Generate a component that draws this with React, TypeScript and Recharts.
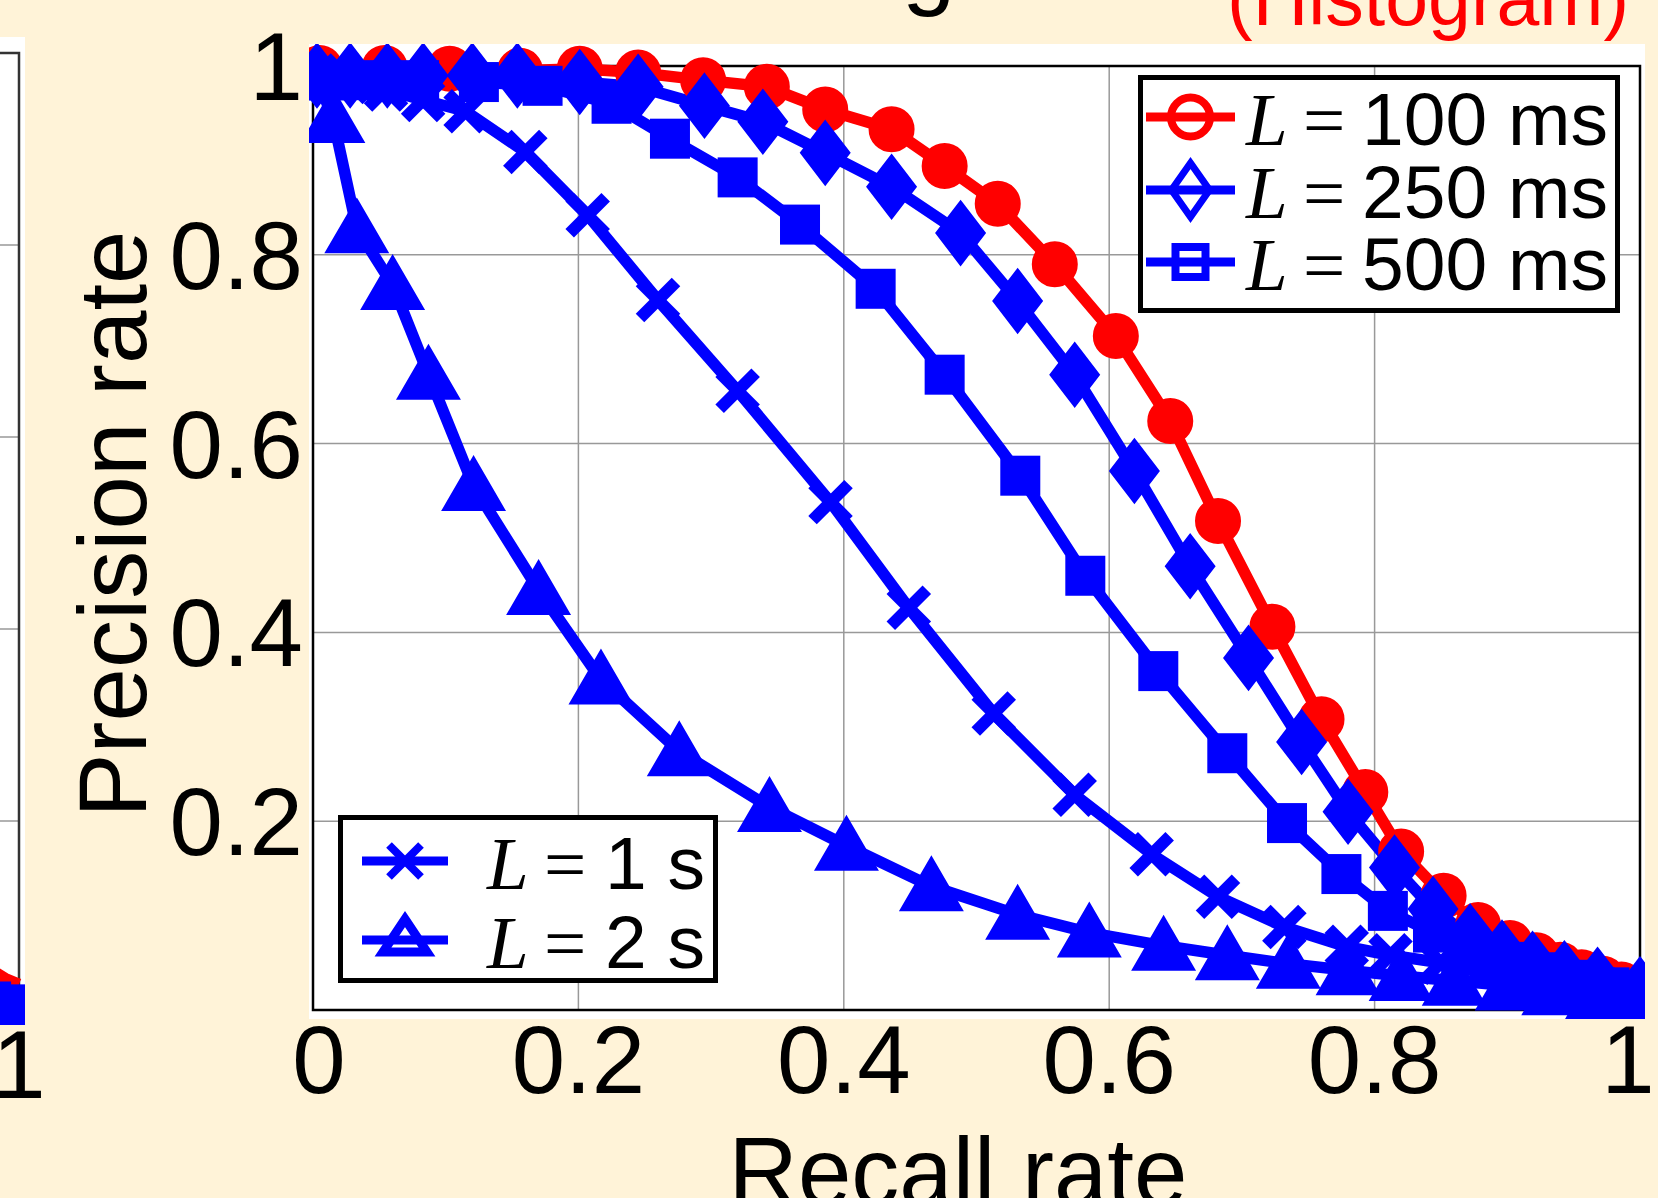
import React from 'react';
import { LineChart, Line, XAxis, YAxis, CartesianGrid, ReferenceArea } from 'recharts';

const W = 1658;
const H = 1198;
const SANS = '"Liberation Sans", Arial, Helvetica, sans-serif';
const SERIF = '"Liberation Serif", "Times New Roman", serif';
const RED = '#ff0000';
const BLUE = '#0000ff';
const PAGE_BG = '#fff3d8';

// recall (x) / precision (y)
const recall100 = [0.005, 0.054, 0.103, 0.156, 0.201, 0.245, 0.294, 0.342, 0.386, 0.436, 0.476, 0.516, 0.559, 0.605, 0.646, 0.682, 0.723, 0.76, 0.793, 0.82, 0.852, 0.878, 0.902, 0.922, 0.94, 0.956, 0.972, 0.986, 1.0];
const precision100 = [0.998, 0.998, 0.997, 0.995, 0.997, 0.993, 0.985, 0.978, 0.954, 0.933, 0.894, 0.854, 0.79, 0.714, 0.624, 0.518, 0.406, 0.308, 0.231, 0.168, 0.121, 0.09, 0.071, 0.058, 0.048, 0.04, 0.033, 0.027, 0.022];

const recall250 = [0.003, 0.028, 0.056, 0.083, 0.12, 0.154, 0.201, 0.245, 0.295, 0.339, 0.386, 0.436, 0.488, 0.531, 0.574, 0.619, 0.661, 0.705, 0.745, 0.78, 0.815, 0.844, 0.872, 0.896, 0.919, 0.943, 0.968, 1.0];
const precision250 = [0.99, 0.99, 0.99, 0.99, 0.99, 0.99, 0.983, 0.978, 0.958, 0.941, 0.908, 0.872, 0.823, 0.751, 0.673, 0.571, 0.47, 0.373, 0.284, 0.21, 0.151, 0.107, 0.078, 0.061, 0.049, 0.039, 0.032, 0.022];

const recall500 = [0.003, 0.04, 0.08, 0.125, 0.173, 0.225, 0.269, 0.32, 0.367, 0.424, 0.476, 0.533, 0.582, 0.637, 0.689, 0.734, 0.775, 0.81, 0.844, 0.872, 0.898, 0.925, 0.951, 0.977, 1.0];
const precision500 = [0.985, 0.985, 0.985, 0.983, 0.979, 0.96, 0.923, 0.882, 0.832, 0.764, 0.673, 0.566, 0.46, 0.359, 0.272, 0.198, 0.144, 0.105, 0.082, 0.064, 0.051, 0.04, 0.032, 0.024, 0.019];

const recall1s = [0.003, 0.027, 0.055, 0.083, 0.115, 0.16, 0.207, 0.26, 0.32, 0.39, 0.449, 0.513, 0.574, 0.632, 0.682, 0.732, 0.779, 0.812, 0.85, 0.88, 0.91, 0.94, 0.97, 1.0];
const precision1s = [0.99, 0.983, 0.975, 0.964, 0.952, 0.909, 0.842, 0.752, 0.656, 0.538, 0.426, 0.314, 0.228, 0.165, 0.12, 0.088, 0.067, 0.058, 0.05, 0.04, 0.033, 0.027, 0.022, 0.018];

const recall2s = [0.002, 0.015, 0.033, 0.06, 0.087, 0.121, 0.17, 0.217, 0.276, 0.344, 0.402, 0.466, 0.531, 0.585, 0.641, 0.689, 0.735, 0.78, 0.82, 0.86, 0.9, 0.935, 0.968, 1.0];
const precision2s = [0.99, 0.945, 0.828, 0.768, 0.673, 0.555, 0.445, 0.35, 0.274, 0.215, 0.174, 0.131, 0.101, 0.082, 0.068, 0.058, 0.049, 0.042, 0.036, 0.031, 0.026, 0.021, 0.017, 0.014];

// neighbouring panel on the left, only its right edge is in frame
const recallPrevRed = [0.85, 0.9, 0.95, 1.0];
const precisionPrevRed = [0.06, 0.045, 0.036, 0.03];
const recallPrevBlue = [0.9, 0.95, 1.0];
const precisionPrevBlue = [0.012, 0.009, 0.008];

const xTicks = [0, 0.2, 0.4, 0.6, 0.8, 1];
const yTicks = [0.2, 0.4, 0.6, 0.8, 1];

const pts = (xs: number[], ys: number[]) => xs.map((x, i) => ({ x, y: ys[i] }));

type Kind = 'circle' | 'diamond' | 'square' | 'cross' | 'triangle';

const Marker = ({ kind, cx, cy, color, open = false }: { kind: Kind; cx: number; cy: number; color: string; open?: boolean }) => {
  const fill = open ? 'none' : color;
  switch (kind) {
    case 'circle':
      return <circle cx={cx} cy={cy} r={open ? 19.5 : 21} fill={fill} stroke={color} strokeWidth={open ? 8 : 4} />;
    case 'diamond': {
      const w = open ? 19 : 23;
      const h = open ? 27 : 30;
      return (
        <polygon
          points={`${cx},${cy - h} ${cx + w},${cy} ${cx},${cy + h} ${cx - w},${cy}`}
          fill={fill} stroke={color} strokeWidth={open ? 7 : 4} strokeLinejoin="miter"
        />
      );
    }
    case 'square': {
      const s = open ? 15 : 18;
      return <rect x={cx - s} y={cy - s} width={2 * s} height={2 * s} fill={fill} stroke={color} strokeWidth={open ? 8 : 4} />;
    }
    case 'cross': {
      const s = open ? 16 : 18;
      return (
        <g stroke={color} strokeWidth={open ? 8 : 12}>
          <line x1={cx - s} y1={cy - s} x2={cx + s} y2={cy + s} />
          <line x1={cx - s} y1={cy + s} x2={cx + s} y2={cy - s} />
        </g>
      );
    }
    case 'triangle': {
      const top = open ? 21 : 27;
      const bot = open ? 12 : 23;
      const w = open ? 22 : 29;
      return (
        <polygon
          points={`${cx},${cy - top} ${cx + w},${cy + bot} ${cx - w},${cy + bot}`}
          fill={fill} stroke={color} strokeWidth={open ? 9 : 4} strokeLinejoin="miter"
        />
      );
    }
  }
  return null;
};

const makeDot = (kind: Kind, color: string, clip?: string) => (props: any) => {
  const { cx, cy, index } = props;
  if (cx == null || cy == null) return <g key={`none-${index}`} />;
  return (
    <g key={`${kind}-${index}`} clipPath={clip}>
      <Marker kind={kind} cx={cx} cy={cy} color={color} />
    </g>
  );
};

const tickStyle = { fontSize: 96, fill: '#000', fontFamily: SANS };

// end labels are nudged inwards, as in the original figure
const XTick = (props: any) => {
  const { x, y, payload } = props;
  const v = payload.value;
  const shift = v === 0 ? 6 : v === 1 ? -12 : 0;
  return (
    <text x={x + shift} y={y} dy="0.71em" textAnchor="middle" {...tickStyle}>
      {String(v)}
    </text>
  );
};

const XTitle = () => (
  <text x={958} y={1205} textAnchor="middle" fontSize={96} fontFamily={SANS} fill="#000">
    Recall rate
  </text>
);

const YTitle = () => (
  <text x={146} y={524} transform="rotate(-90 146 524)" textAnchor="middle" fontSize={96} fontFamily={SANS} fill="#000">
    Precision rate
  </text>
);

const LegendRow = ({ kind, color, x1, x2, y, textX, eqX, valX, label }: any) => (
  <g>
    <line x1={x1} y1={y} x2={x2} y2={y} stroke={color} strokeWidth={9} />
    <Marker kind={kind} cx={(x1 + x2) / 2} cy={y} color={color} open />
    <text y={y + 28} fontSize={75} fill="#000">
      <tspan x={textX} fontFamily={SERIF} fontStyle="italic">L</tspan>
      <tspan x={eqX} fontFamily={SERIF}>=</tspan>
      <tspan x={valX} fontFamily={SANS}>{label}</tspan>
    </text>
  </g>
);

const clip = 'url(#fig-clip)';
const lineProps = { type: 'linear' as const, dataKey: 'y', strokeWidth: 11.5, strokeLinejoin: 'round' as const, activeDot: false, isAnimationActive: false };

export default function App() {
  return (
    <div style={{ position: 'absolute', left: 0, top: 0, width: W, height: H, overflow: 'hidden', background: PAGE_BG, fontFamily: SANS }}>
      {/* white figure area of this panel */}
      <div style={{ position: 'absolute', left: 309, top: 44, width: 1336, height: 975, background: '#fff' }} />

      {/* right edge of the previous panel */}
      <div style={{ position: 'absolute', left: 0, top: 37, width: 25, height: 988, background: '#fff', overflow: 'hidden' }}>
        <div style={{ position: 'absolute', left: -280, top: -37 }}>
          <LineChart width={306} height={H} margin={{ top: 53, right: 7, bottom: 185, left: 20 }}>
            <XAxis type="number" dataKey="x" domain={[0, 1]} hide />
            <YAxis type="number" domain={[0, 1]} ticks={yTicks} hide />
            <CartesianGrid vertical={false} stroke="#999" strokeWidth={1.5} />
            <ReferenceArea x1={0} x2={1} y1={0} y2={1} fill="none" stroke="#333" strokeWidth={2.5} ifOverflow="visible" />
            <Line {...lineProps} data={pts(recallPrevRed, precisionPrevRed)} stroke={RED} dot={false} />
            <Line {...lineProps} data={pts(recallPrevBlue, precisionPrevBlue)} stroke={BLUE} dot={makeDot('square', BLUE)} />
          </LineChart>
        </div>
      </div>

      <div style={{ position: 'absolute', left: 0, top: 0 }}>
        <LineChart width={W} height={H} margin={{ top: 66, right: 18, bottom: 88, left: 113 }}>
          <CartesianGrid stroke="#999" strokeWidth={1.5} />
          <XAxis
            type="number" dataKey="x" domain={[0, 1]} ticks={xTicks} interval={0}
            tickSize={0} tickMargin={15} axisLine={false} height={100} tick={XTick}
            label={{ content: XTitle }}
          />
          <YAxis
            type="number" domain={[0, 1]} ticks={yTicks} interval={0}
            tickSize={0} tickMargin={10} axisLine={false} width={200} tick={tickStyle}
            label={{ content: YTitle }}
          />
          <ReferenceArea x1={0} x2={1} y1={0} y2={1} fill="none" stroke="#000" strokeWidth={2.5} ifOverflow="visible" />
          <Line {...lineProps} data={pts(recall100, precision100)} stroke={RED} dot={makeDot('circle', RED, clip)} />
          <Line {...lineProps} data={pts(recall250, precision250)} stroke={BLUE} dot={makeDot('diamond', BLUE, clip)} />
          <Line {...lineProps} data={pts(recall500, precision500)} stroke={BLUE} dot={makeDot('square', BLUE, clip)} />
          <Line {...lineProps} data={pts(recall1s, precision1s)} stroke={BLUE} dot={makeDot('cross', BLUE, clip)} />
          <Line {...lineProps} data={pts(recall2s, precision2s)} stroke={BLUE} dot={makeDot('triangle', BLUE, clip)} />
        </LineChart>
      </div>

      <svg width={W} height={H} style={{ position: 'absolute', left: 0, top: 0, pointerEvents: 'none' }}>
        <defs>
          <clipPath id="fig-clip" clipPathUnits="userSpaceOnUse">
            <rect x={309} y={44} width={1336} height={975} />
          </clipPath>
        </defs>

        {/* titles cut off by the top edge */}
        <text x={902} y={-3} fontSize={96} fontFamily={SANS} fill="#000">g</text>
        <text x={1227} y={25} fontSize={77} fontFamily={SANS} fill={RED}>(Histogram)</text>

        {/* tick label of the previous panel */}
        <text x={19} y={1098} textAnchor="middle" fontSize={96} fontFamily={SANS} fill="#000">1</text>

        {/* legend, top right */}
        <rect x={1140.5} y={77.5} width={477} height={233} fill="#fff" stroke="#000" strokeWidth={5} />
        <LegendRow kind="circle" color={RED} x1={1146} x2={1235} y={117} textX={1246} eqX={1303} valX={1362} label="100 ms" />
        <LegendRow kind="diamond" color={BLUE} x1={1146} x2={1235} y={190} textX={1246} eqX={1303} valX={1362} label="250 ms" />
        <LegendRow kind="square" color={BLUE} x1={1146} x2={1235} y={262} textX={1246} eqX={1303} valX={1362} label="500 ms" />

        {/* legend, bottom left */}
        <rect x={340.5} y={817.5} width={375} height={163} fill="#fff" stroke="#000" strokeWidth={5} />
        <LegendRow kind="cross" color={BLUE} x1={362} x2={448} y={861} textX={487} eqX={544} valX={605} label="1 s" />
        <LegendRow kind="triangle" color={BLUE} x1={362} x2={448} y={940} textX={487} eqX={544} valX={605} label="2 s" />
      </svg>
    </div>
  );
}
